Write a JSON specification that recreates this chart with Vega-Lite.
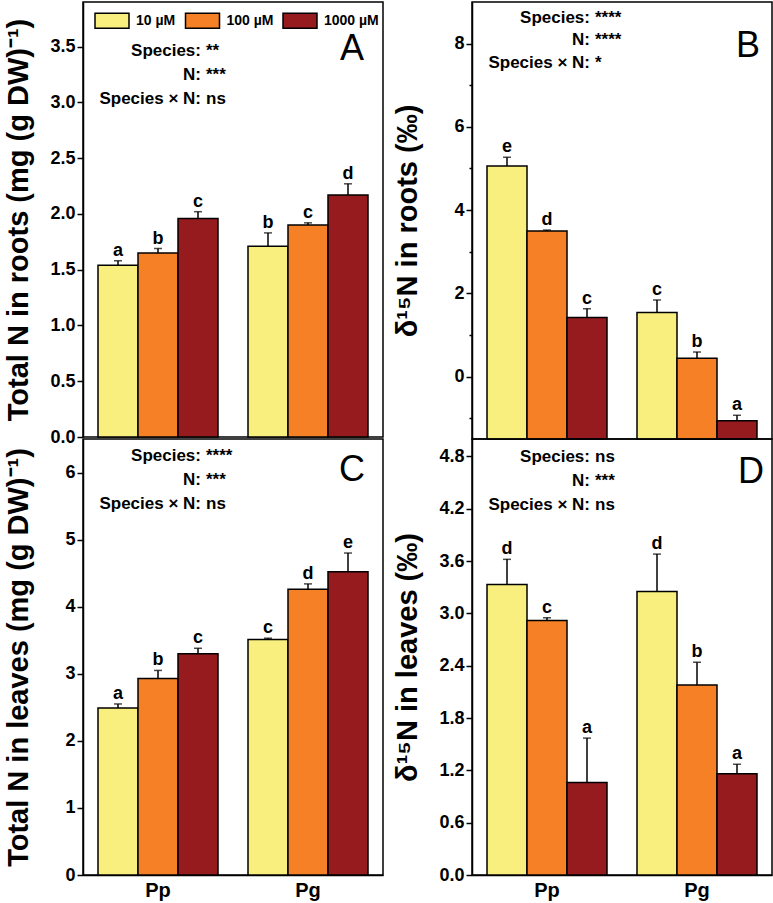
{
  "$schema": "https://vega.github.io/schema/vega-lite/v6.json",
  "padding": {"left": 3, "top": 1, "right": 0, "bottom": 0},
  "bounds": "flush",
  "columns": 2,
  "spacing": {"row": 0, "column": 89},
  "resolve": {"scale": {"x": "independent", "y": "independent", "xOffset": "independent"}, "legend": {"color": "independent"}},
  "datasets": {
    "rootsN": [
      {"species": "Pp", "N": "10 µM", "mean": 1.54, "upper": 1.58, "letter": "a"},
      {"species": "Pp", "N": "100 µM", "mean": 1.65, "upper": 1.69, "letter": "b"},
      {"species": "Pp", "N": "1000 µM", "mean": 1.96, "upper": 2.02, "letter": "c"},
      {"species": "Pg", "N": "10 µM", "mean": 1.71, "upper": 1.83, "letter": "b"},
      {"species": "Pg", "N": "100 µM", "mean": 1.90, "upper": 1.92, "letter": "c"},
      {"species": "Pg", "N": "1000 µM", "mean": 2.17, "upper": 2.27, "letter": "d"}
    ],
    "rootsD15N": [
      {"species": "Pp", "N": "10 µM", "mean": 5.06, "upper": 5.27, "letter": "e"},
      {"species": "Pp", "N": "100 µM", "mean": 3.50, "upper": 3.52, "letter": "d"},
      {"species": "Pp", "N": "1000 µM", "mean": 1.42, "upper": 1.63, "letter": "c"},
      {"species": "Pg", "N": "10 µM", "mean": 1.54, "upper": 1.84, "letter": "c"},
      {"species": "Pg", "N": "100 µM", "mean": 0.44, "upper": 0.59, "letter": "b"},
      {"species": "Pg", "N": "1000 µM", "mean": -1.06, "upper": -0.93, "letter": "a"}
    ],
    "leavesN": [
      {"species": "Pp", "N": "10 µM", "mean": 2.49, "upper": 2.55, "letter": "a"},
      {"species": "Pp", "N": "100 µM", "mean": 2.93, "upper": 3.05, "letter": "b"},
      {"species": "Pp", "N": "1000 µM", "mean": 3.30, "upper": 3.38, "letter": "c"},
      {"species": "Pg", "N": "10 µM", "mean": 3.51, "upper": 3.53, "letter": "c"},
      {"species": "Pg", "N": "100 µM", "mean": 4.26, "upper": 4.34, "letter": "d"},
      {"species": "Pg", "N": "1000 µM", "mean": 4.52, "upper": 4.80, "letter": "e"}
    ],
    "leavesD15N": [
      {"species": "Pp", "N": "10 µM", "mean": 3.33, "upper": 3.62, "letter": "d"},
      {"species": "Pp", "N": "100 µM", "mean": 2.92, "upper": 2.95, "letter": "c"},
      {"species": "Pp", "N": "1000 µM", "mean": 1.06, "upper": 1.57, "letter": "a"},
      {"species": "Pg", "N": "10 µM", "mean": 3.25, "upper": 3.68, "letter": "d"},
      {"species": "Pg", "N": "100 µM", "mean": 2.18, "upper": 2.44, "letter": "b"},
      {"species": "Pg", "N": "1000 µM", "mean": 1.16, "upper": 1.27, "letter": "a"}
    ],
    "statsAnchor": [{"species": "Pp", "N": "1000 µM"}],
    "panelAnchor": [{"species": "Pg", "N": "1000 µM"}]
  },
  "concat": [
    {
      "width": 300, "height": 435,
      "data": {"name": "rootsN"},
      "encoding": {
        "x": {"field": "species", "type": "nominal", "sort": ["Pp", "Pg"], "scale": {"domain": ["Pp", "Pg"], "paddingInner": 0.2, "paddingOuter": 0.1}, "axis": null},
        "xOffset": {"field": "N", "type": "nominal", "sort": ["10 µM", "100 µM", "1000 µM"], "scale": {"domain": ["10 µM", "100 µM", "1000 µM"], "paddingInner": 0, "paddingOuter": 0}}
      },
      "layer": [
        {"mark": {"type": "bar", "stroke": "black", "strokeWidth": 1.5},
         "encoding": {
           "y": {"field": "mean", "type": "quantitative", "scale": {"domain": [0, 3.9], "nice": false},
             "axis": {"title": "Total N in roots (mg (g DW)⁻¹)", "values": [0, 0.25, 0.5, 0.75, 1, 1.25, 1.5, 1.75, 2, 2.25, 2.5, 2.75, 3, 3.25, 3.5, 3.75],
               "labelExpr": "abs(datum.value*2-round(datum.value*2))<0.01 ? format(datum.value,'.1f') : ''",
               "tickSize": {"condition": {"test": "abs(datum.value*2-round(datum.value*2))<0.01", "value": 6}, "value": 3},
               "minExtent": 35, "maxExtent": 35, "titlePadding": 15, "labelOverlap": false}},
           "color": {"field": "N", "type": "nominal", "scale": {"domain": ["10 µM", "100 µM", "1000 µM"], "range": ["#F8EF7F", "#F58025", "#961B1F"]},
           "legend": {"orient": "none", "legendX": 11, "legendY": 0.5, "direction": "horizontal", "title": null, "padding": 0,
             "symbolType": "M-1,-0.44H1V0.44H-1Z", "symbolSize": 1156, "symbolStrokeColor": "black", "symbolStrokeWidth": 1.5, "symbolOpacity": 1,
             "labelFont": "Liberation Sans", "labelFontSize": 14, "labelFontWeight": "bold", "labelColor": "black", "labelOffset": 6, "columnPadding": 6.5}}}},
        {"mark": {"type": "rule", "strokeWidth": 1.5, "color": "black"}, "encoding": {"y": {"field": "mean", "type": "quantitative"}, "y2": {"field": "upper"}}},
        {"mark": {"type": "tick", "size": 8, "thickness": 1.5, "color": "black"}, "encoding": {"y": {"field": "upper", "type": "quantitative"}}},
        {"mark": {"type": "text", "baseline": "alphabetic", "dy": -5, "fontSize": 18, "fontWeight": "bold"}, "encoding": {"y": {"field": "upper", "type": "quantitative"}, "text": {"field": "letter"}}},
        {"data": {"name": "statsAnchor"}, "mark": {"type": "text", "align": "right", "baseline": "top", "dx": 3, "fontSize": 17, "fontWeight": "bold", "lineHeight": 24},
         "encoding": {"y": {"datum": 3.53}, "text": {"value": ["Species:", "N:", "Species × N:"]}}},
        {"data": {"name": "statsAnchor"}, "mark": {"type": "text", "align": "left", "baseline": "top", "dx": 8, "fontSize": 17, "fontWeight": "bold", "lineHeight": 24},
         "encoding": {"y": {"datum": 3.53}, "text": {"value": ["**", "***", "ns"]}}},
        {"data": {"name": "panelAnchor"}, "mark": {"type": "text", "align": "center", "baseline": "alphabetic", "dx": 4, "fontSize": 36},
         "encoding": {"y": {"datum": 3.38}, "text": {"value": "A"}}}
      ]
    },
    {
      "width": 300, "height": 437,
      "data": {"name": "rootsD15N"},
      "encoding": {
        "x": {"field": "species", "type": "nominal", "sort": ["Pp", "Pg"], "scale": {"domain": ["Pp", "Pg"], "paddingInner": 0.2, "paddingOuter": 0.1}, "axis": null},
        "xOffset": {"field": "N", "type": "nominal", "sort": ["10 µM", "100 µM", "1000 µM"], "scale": {"domain": ["10 µM", "100 µM", "1000 µM"], "paddingInner": 0, "paddingOuter": 0}}
      },
      "layer": [
        {"mark": {"type": "bar", "stroke": "black", "strokeWidth": 1.5},
         "encoding": {
           "y": {"field": "mean", "type": "quantitative", "scale": {"domain": [-1.5, 9], "nice": false, "zero": false},
             "axis": {"title": "δ¹⁵N in roots (‰)", "values": [-1, 0, 1, 2, 3, 4, 5, 6, 7, 8],
               "labelExpr": "datum.value % 2 == 0 ? format(datum.value,'d') : ''",
               "tickSize": {"condition": {"test": "datum.value % 2 == 0", "value": 6}, "value": 3},
               "minExtent": 35, "maxExtent": 35, "titlePadding": 15, "labelOverlap": false}},
           "y2": {"datum": -1.5},
           "color": {"field": "N", "type": "nominal", "scale": {"domain": ["10 µM", "100 µM", "1000 µM"], "range": ["#F8EF7F", "#F58025", "#961B1F"]}, "legend": null}}},
        {"mark": {"type": "rule", "strokeWidth": 1.5, "color": "black"}, "encoding": {"y": {"field": "mean", "type": "quantitative"}, "y2": {"field": "upper"}}},
        {"mark": {"type": "tick", "size": 8, "thickness": 1.5, "color": "black"}, "encoding": {"y": {"field": "upper", "type": "quantitative"}}},
        {"mark": {"type": "text", "baseline": "alphabetic", "dy": -5, "fontSize": 18, "fontWeight": "bold"}, "encoding": {"y": {"field": "upper", "type": "quantitative"}, "text": {"field": "letter"}}},
        {"data": {"name": "statsAnchor"}, "mark": {"type": "text", "align": "right", "baseline": "top", "dx": 3, "fontSize": 17, "fontWeight": "bold", "lineHeight": 22.5},
         "encoding": {"y": {"datum": 8.81}, "text": {"value": ["Species:", "N:", "Species × N:"]}}},
        {"data": {"name": "statsAnchor"}, "mark": {"type": "text", "align": "left", "baseline": "top", "dx": 8, "fontSize": 17, "fontWeight": "bold", "lineHeight": 22.5},
         "encoding": {"y": {"datum": 8.81}, "text": {"value": ["****", "****", "*"]}}},
        {"data": {"name": "panelAnchor"}, "mark": {"type": "text", "align": "center", "baseline": "alphabetic", "dx": 11, "fontSize": 36},
         "encoding": {"y": {"datum": 7.68}, "text": {"value": "B"}}}
      ]
    },
    {
      "width": 300, "height": 436,
      "data": {"name": "leavesN"},
      "encoding": {
        "x": {"field": "species", "type": "nominal", "sort": ["Pp", "Pg"], "scale": {"domain": ["Pp", "Pg"], "paddingInner": 0.2, "paddingOuter": 0.1},
          "axis": {"title": null, "ticks": false, "labelAngle": 0, "labelFontSize": 20, "labelPadding": 5}},
        "xOffset": {"field": "N", "type": "nominal", "sort": ["10 µM", "100 µM", "1000 µM"], "scale": {"domain": ["10 µM", "100 µM", "1000 µM"], "paddingInner": 0, "paddingOuter": 0}}
      },
      "layer": [
        {"mark": {"type": "bar", "stroke": "black", "strokeWidth": 1.5},
         "encoding": {
           "y": {"field": "mean", "type": "quantitative", "scale": {"domain": [0, 6.5], "nice": false},
             "axis": {"title": "Total N in leaves (mg (g DW)⁻¹)", "values": [0, 0.5, 1, 1.5, 2, 2.5, 3, 3.5, 4, 4.5, 5, 5.5, 6],
               "labelExpr": "datum.value % 1 == 0 ? format(datum.value,'d') : ''",
               "tickSize": {"condition": {"test": "datum.value % 1 == 0", "value": 6}, "value": 3},
               "minExtent": 35, "maxExtent": 35, "titlePadding": 15, "labelOverlap": false}},
           "color": {"field": "N", "type": "nominal", "scale": {"domain": ["10 µM", "100 µM", "1000 µM"], "range": ["#F8EF7F", "#F58025", "#961B1F"]}, "legend": null}}},
        {"mark": {"type": "rule", "strokeWidth": 1.5, "color": "black"}, "encoding": {"y": {"field": "mean", "type": "quantitative"}, "y2": {"field": "upper"}}},
        {"mark": {"type": "tick", "size": 8, "thickness": 1.5, "color": "black"}, "encoding": {"y": {"field": "upper", "type": "quantitative"}}},
        {"mark": {"type": "text", "baseline": "alphabetic", "dy": -5, "fontSize": 18, "fontWeight": "bold"}, "encoding": {"y": {"field": "upper", "type": "quantitative"}, "text": {"field": "letter"}}},
        {"data": {"name": "statsAnchor"}, "mark": {"type": "text", "align": "right", "baseline": "top", "dx": 3, "fontSize": 17, "fontWeight": "bold", "lineHeight": 24},
         "encoding": {"y": {"datum": 6.36}, "text": {"value": ["Species:", "N:", "Species × N:"]}}},
        {"data": {"name": "statsAnchor"}, "mark": {"type": "text", "align": "left", "baseline": "top", "dx": 8, "fontSize": 17, "fontWeight": "bold", "lineHeight": 24},
         "encoding": {"y": {"datum": 6.36}, "text": {"value": ["****", "***", "ns"]}}},
        {"data": {"name": "panelAnchor"}, "mark": {"type": "text", "align": "center", "baseline": "alphabetic", "dx": 4, "fontSize": 36},
         "encoding": {"y": {"datum": 5.87}, "text": {"value": "C"}}}
      ]
    },
    {
      "width": 300, "height": 436,
      "data": {"name": "leavesD15N"},
      "encoding": {
        "x": {"field": "species", "type": "nominal", "sort": ["Pp", "Pg"], "scale": {"domain": ["Pp", "Pg"], "paddingInner": 0.2, "paddingOuter": 0.1},
          "axis": {"title": null, "ticks": false, "labelAngle": 0, "labelFontSize": 20, "labelPadding": 5}},
        "xOffset": {"field": "N", "type": "nominal", "sort": ["10 µM", "100 µM", "1000 µM"], "scale": {"domain": ["10 µM", "100 µM", "1000 µM"], "paddingInner": 0, "paddingOuter": 0}}
      },
      "layer": [
        {"mark": {"type": "bar", "stroke": "black", "strokeWidth": 1.5},
         "encoding": {
           "y": {"field": "mean", "type": "quantitative", "scale": {"domain": [0, 5], "nice": false},
             "axis": {"title": "δ¹⁵N in leaves (‰)", "values": [0, 0.3, 0.6, 0.9, 1.2, 1.5, 1.8, 2.1, 2.4, 2.7, 3.0, 3.3, 3.6, 3.9, 4.2, 4.5, 4.8],
               "labelExpr": "abs(datum.value/0.6-round(datum.value/0.6))<0.01 ? format(datum.value,'.1f') : ''",
               "tickSize": {"condition": {"test": "abs(datum.value/0.6-round(datum.value/0.6))<0.01", "value": 6}, "value": 3},
               "minExtent": 35, "maxExtent": 35, "titlePadding": 15, "labelOverlap": false}},
           "color": {"field": "N", "type": "nominal", "scale": {"domain": ["10 µM", "100 µM", "1000 µM"], "range": ["#F8EF7F", "#F58025", "#961B1F"]}, "legend": null}}},
        {"mark": {"type": "rule", "strokeWidth": 1.5, "color": "black"}, "encoding": {"y": {"field": "mean", "type": "quantitative"}, "y2": {"field": "upper"}}},
        {"mark": {"type": "tick", "size": 8, "thickness": 1.5, "color": "black"}, "encoding": {"y": {"field": "upper", "type": "quantitative"}}},
        {"mark": {"type": "text", "baseline": "alphabetic", "dy": -5, "fontSize": 18, "fontWeight": "bold"}, "encoding": {"y": {"field": "upper", "type": "quantitative"}, "text": {"field": "letter"}}},
        {"data": {"name": "statsAnchor"}, "mark": {"type": "text", "align": "right", "baseline": "top", "dx": 3, "fontSize": 17, "fontWeight": "bold", "lineHeight": 24},
         "encoding": {"y": {"datum": 4.885}, "text": {"value": ["Species:", "N:", "Species × N:"]}}},
        {"data": {"name": "statsAnchor"}, "mark": {"type": "text", "align": "left", "baseline": "top", "dx": 8, "fontSize": 17, "fontWeight": "bold", "lineHeight": 24},
         "encoding": {"y": {"datum": 4.885}, "text": {"value": ["ns", "***", "ns"]}}},
        {"data": {"name": "panelAnchor"}, "mark": {"type": "text", "align": "center", "baseline": "alphabetic", "dx": 14, "fontSize": 36},
         "encoding": {"y": {"datum": 4.49}, "text": {"value": "D"}}}
      ]
    }
  ],
  "config": {
    "font": "Liberation Sans",
    "view": {"stroke": "black", "strokeWidth": 1.5},
    "axis": {"labelFont": "Liberation Sans", "labelFontWeight": "bold", "labelFontSize": 18, "labelColor": "black", "labelPadding": 2,
      "titleFont": "Liberation Sans", "titleFontWeight": "bold", "titleFontSize": 29, "titleColor": "black",
      "domainColor": "black", "domainWidth": 1.5, "tickColor": "black", "tickWidth": 1.5, "grid": false},
    "text": {"font": "Liberation Sans", "color": "black"}
  }
}
